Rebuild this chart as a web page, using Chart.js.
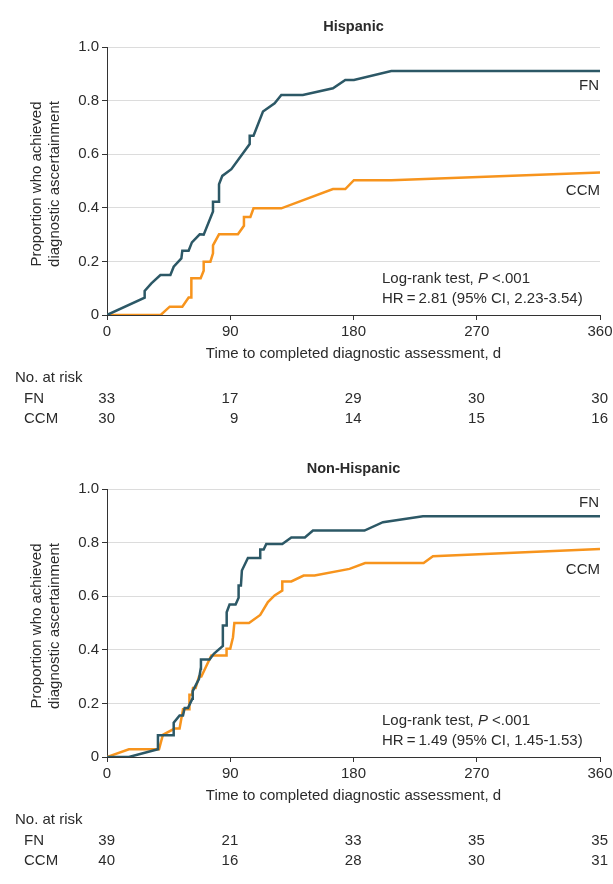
<!DOCTYPE html>
<html>
<head>
<meta charset="utf-8">
<script src="https://cdn.jsdelivr.net/npm/chart.js@4.4.1/dist/chart.umd.min.js"></script>
<style>
  body { margin: 0; background: #fff; }
  .panel { position: absolute; left: 0; width: 613px; height: 442px; }
</style>
</head>
<body>
<div class="panel" style="top:0"><canvas id="hispanic" width="613" height="442"></canvas></div>
<div class="panel" style="top:442px"><canvas id="nonHispanic" width="613" height="442"></canvas></div>
<script>
// x ticks / risk table columns (days)
const riskDays = [0, 90, 180, 270, 360];
const yTicks = [0, 0.2, 0.4, 0.6, 0.8, 1.0];

// Hispanic
const hispFnDays = [0, 27.5, 27.5, 32.4, 39, 46.3, 48.7, 54.3, 55, 59.6, 62, 67.7, 70.6, 77.4, 77.4, 81.8, 81.8, 84.2, 90.8, 104.2, 104.2, 107, 113.9, 122.4, 127.3, 143, 165, 174, 180.3, 207.6, 360];
const hispFnProp = [0, 0.065, 0.09, 0.118, 0.149, 0.149, 0.18, 0.211, 0.24, 0.24, 0.271, 0.301, 0.30, 0.386, 0.423, 0.423, 0.488, 0.519, 0.544, 0.638, 0.669, 0.669, 0.759, 0.79, 0.821, 0.821, 0.846, 0.877, 0.877, 0.91, 0.91];
const hispCcmDays = [0, 39.2, 45.8, 55, 59.6, 61.6, 61.6, 68.4, 70.6, 70.6, 75.5, 77.4, 77.4, 81.8, 95.6, 100, 100, 104.7, 107, 127.3, 165, 174, 180.3, 207.6, 360];
const hispCcmProp = [0, 0, 0.031, 0.031, 0.065, 0.065, 0.137, 0.137, 0.165, 0.199, 0.199, 0.23, 0.26, 0.301, 0.301, 0.333, 0.366, 0.366, 0.398, 0.398, 0.47, 0.47, 0.503, 0.503, 0.532];
const hispFnRisk = [33, 17, 29, 30, 30];
const hispCcmRisk = [30, 9, 14, 15, 16];

// Non-Hispanic
const nonFnDays = [0, 16, 37.2, 37.2, 48.7, 48.7, 53, 55.5, 56.7, 59.1, 62.3, 62.6, 67.2, 68.4, 68.6, 74.9, 78, 84.6, 84.6, 87.1, 87.4, 89.5, 93.9, 96.1, 96.1, 97.8, 98.5, 102.9, 111.9, 111.9, 114.4, 116.3, 128, 134.6, 144.5, 150.4, 188, 201.5, 230.7, 360];
const nonFnProp = [0, 0, 0.029, 0.081, 0.081, 0.128, 0.155, 0.155, 0.183, 0.183, 0.217, 0.246, 0.292, 0.329, 0.364, 0.364, 0.385, 0.414, 0.491, 0.491, 0.54, 0.569, 0.569, 0.594, 0.64, 0.64, 0.696, 0.743, 0.743, 0.774, 0.774, 0.795, 0.795, 0.819, 0.819, 0.845, 0.845, 0.876, 0.898, 0.898];
const nonCcmDays = [0, 16, 38, 40.4, 41, 49.4, 53, 55.5, 59.9, 60.2, 62.1, 62.8, 64.7, 67.2, 68.9, 76.2, 87.1, 87.3, 90, 92, 93, 103.7, 111.9, 117.5, 122.4, 128, 128, 134.6, 143.6, 151.6, 177.1, 188.5, 231.2, 238, 360];
const nonCcmProp = [0, 0.029, 0.029, 0.075, 0.083, 0.106, 0.106, 0.178, 0.178, 0.232, 0.232, 0.257, 0.257, 0.30, 0.30, 0.379, 0.379, 0.404, 0.404, 0.447, 0.5, 0.5, 0.53, 0.578, 0.603, 0.621, 0.655, 0.655, 0.677, 0.677, 0.702, 0.724, 0.724, 0.749, 0.776];
const nonFnRisk = [39, 21, 33, 35, 35];
const nonCcmRisk = [40, 16, 28, 30, 31];

const FONT = "'Liberation Sans', Arial, sans-serif";
const TEXT = '#2b2b2b';
const FN_COLOR = '#2c5866';
const CCM_COLOR = '#f7941d';

function toPoints(days, prop) {
  return days.map((d, i) => ({ x: d, y: prop[i] }));
}

const annotate = {
  id: 'annotate',
  afterDraw(chart, args, opts) {
    const ctx = chart.ctx;
    const area = chart.chartArea;
    const xs = chart.scales.x;
    ctx.save();
    ctx.fillStyle = TEXT;
    ctx.textBaseline = 'middle';

    // panel title
    ctx.font = 'bold 14.5px ' + FONT;
    ctx.textAlign = 'center';
    ctx.fillText(opts.title, (area.left + area.right) / 2, 27);

    // axis titles
    ctx.font = '15px ' + FONT;
    ctx.fillText('Time to completed diagnostic assessment, d', (area.left + area.right) / 2, 354);
    ctx.save();
    ctx.translate(37, 184);
    ctx.rotate(-Math.PI / 2);
    ctx.fillText('Proportion who achieved', 0, 0);
    ctx.fillText('diagnostic ascertainment', 0, 18);
    ctx.restore();

    // curve labels
    ctx.textAlign = 'right';
    ctx.fillText('FN', 599, opts.fnLabelY);
    ctx.fillText('CCM', 600, opts.ccmLabelY);

    // log-rank text
    ctx.textAlign = 'left';
    let x = 382;
    const t1 = 'Log-rank test, ';
    ctx.fillText(t1, x, 279);
    x += ctx.measureText(t1).width;
    ctx.font = 'italic 15px ' + FONT;
    ctx.fillText('P', x, 279);
    x += ctx.measureText('P').width;
    ctx.font = '15px ' + FONT;
    ctx.fillText(' <.001', x, 279);
    ctx.fillText(opts.hr, 382, 299);

    // number at risk
    ctx.fillText('No. at risk', 15, 378);
    ctx.fillText('FN', 24, 399);
    ctx.fillText('CCM', 24, 419);
    ctx.textAlign = 'right';
    riskDays.forEach((d, i) => {
      const px = xs.getPixelForValue(d) + 8;
      ctx.fillText(String(opts.fnRisk[i]), px, 399);
      ctx.fillText(String(opts.ccmRisk[i]), px, 419);
    });
    ctx.restore();
  }
};

function makeChart(id, panel) {
  return new Chart(document.getElementById(id), {
    type: 'line',
    data: {
      datasets: [
        {
          label: 'FN',
          data: toPoints(panel.fnDays, panel.fnProp),
          borderColor: FN_COLOR,
          borderWidth: 2.5,
          pointRadius: 0,
          tension: 0,
          fill: false,
        },
        {
          label: 'CCM',
          data: toPoints(panel.ccmDays, panel.ccmProp),
          borderColor: CCM_COLOR,
          borderWidth: 2.5,
          pointRadius: 0,
          tension: 0,
          fill: false,
        },
      ],
    },
    options: {
      responsive: false,
      animation: false,
      devicePixelRatio: 1,
      layout: { padding: { top: 47, right: 13, left: 0, bottom: 0 } },
      plugins: {
        legend: { display: false },
        tooltip: { enabled: false },
        annotate: panel,
      },
      scales: {
        x: {
          type: 'linear',
          min: 0,
          max: 360,
          afterBuildTicks: (s) => { s.ticks = riskDays.map((v) => ({ value: v })); },
          afterFit: (s) => { s.height = 127; s.paddingLeft = 0; s.paddingRight = 0; },
          ticks: { color: TEXT, font: { family: FONT, size: 15 }, padding: 3, maxRotation: 0 },
          grid: { drawOnChartArea: false, tickLength: 5, tickColor: '#333' },
          border: { color: '#333', width: 1 },
        },
        y: {
          min: 0,
          max: 1,
          afterBuildTicks: (s) => { s.ticks = yTicks.map((v) => ({ value: v })); },
          afterFit: (s) => { s.width = 107; s.paddingTop = 0; s.paddingBottom = 0; },
          ticks: {
            color: TEXT,
            font: { family: FONT, size: 15 },
            padding: 3,
            callback: (v) => (v === 0 ? '0' : Number(v).toFixed(1)),
          },
          grid: { color: '#dcdcdc', lineWidth: 1, tickLength: 5, tickColor: '#333' },
          border: { color: '#333', width: 1 },
        },
      },
    },
    plugins: [annotate],
  });
}

makeChart('hispanic', {
  title: 'Hispanic',
  fnDays: hispFnDays, fnProp: hispFnProp,
  ccmDays: hispCcmDays, ccmProp: hispCcmProp,
  fnRisk: hispFnRisk, ccmRisk: hispCcmRisk,
  fnLabelY: 86, ccmLabelY: 191,
  hr: 'HR\u2009=\u20092.81 (95% CI, 2.23-3.54)',
});

makeChart('nonHispanic', {
  title: 'Non-Hispanic',
  fnDays: nonFnDays, fnProp: nonFnProp,
  ccmDays: nonCcmDays, ccmProp: nonCcmProp,
  fnRisk: nonFnRisk, ccmRisk: nonCcmRisk,
  fnLabelY: 61, ccmLabelY: 128,
  hr: 'HR\u2009=\u20091.49 (95% CI, 1.45-1.53)',
});
</script>
</body>
</html>
